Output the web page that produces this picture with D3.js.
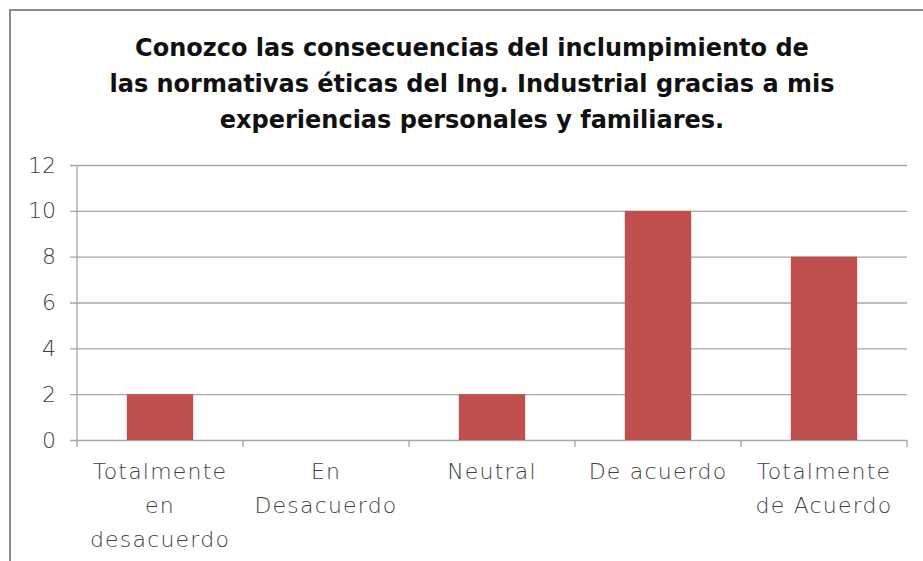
<!DOCTYPE html>
<html>
<head>
<meta charset="utf-8">
<script src="https://cdn.jsdelivr.net/npm/d3@7"></script>
<style>
  body { margin: 0; background: #fff; }
  svg text { font-family: "DejaVu Sans", sans-serif; }
</style>
</head>
<body>
<div id="chart"></div>
<script>
const categories = [
    ["Totalmente", "en", "desacuerdo"],
    ["En", "Desacuerdo"],
    ["Neutral"],
    ["De acuerdo"],
    ["Totalmente", "de Acuerdo"]
];
const values = [2, 0, 2, 10, 8];
const yTicks = [0, 2, 4, 6, 8, 10, 12];
const titleLines = [
    "Conozco las consecuencias del inclumpimiento de",
    "las normativas éticas del Ing. Industrial gracias a mis",
    "experiencias personales y familiares."
];

const W = 923, H = 561;
const margin = { top: 165, right: 16, bottom: 121, left: 77 };
const width = W - margin.left - margin.right;
const height = H - margin.top - margin.bottom;

const svg = d3.select("#chart").append("svg")
    .attr("width", W)
    .attr("height", H);

// outer frame (only top and left edges visible)
svg.append("rect")
    .attr("x", 10).attr("y", 10)
    .attr("width", W + 20).attr("height", H + 20)
    .attr("fill", "none")
    .attr("stroke", "#8c8c8c")
    .attr("stroke-width", 2);

// title
svg.append("text")
    .attr("text-anchor", "middle")
    .attr("font-size", 24)
    .attr("font-weight", "bold")
    .attr("fill", "#111")
    .selectAll("tspan")
    .data(titleLines)
    .enter()
    .append("tspan")
    .attr("x", 472)
    .attr("y", (d, i) => 56 + i * 36)
    .text(d => d);

const g = svg.append("g")
    .attr("transform", `translate(${margin.left},${margin.top})`);

const x = d3.scaleBand()
    .domain(d3.range(categories.length))
    .range([0, width])
    .paddingInner(0.6)
    .paddingOuter(0.3);

const y = d3.scaleLinear()
    .domain([0, 12])
    .range([height, 0]);

// gridlines + y ticks
const yAxis = g.append("g")
    .call(d3.axisLeft(y).tickValues(yTicks).tickSize(-width - 7).tickPadding(14).tickFormat(d3.format("d")))
    .attr("transform", "translate(-7,0)");
yAxis.select(".domain").remove();
yAxis.selectAll("line").attr("stroke", "#a6a6a6").attr("stroke-width", 1.3)
    .attr("x2", width + 7).attr("x1", 0);
yAxis.selectAll("text")
    .attr("font-size", 22)
    .attr("font-weight", 200)
    .attr("fill", "#404040");

// y axis line
g.append("line")
    .attr("x1", 0).attr("x2", 0)
    .attr("y1", 0).attr("y2", height)
    .attr("stroke", "#a6a6a6").attr("stroke-width", 1.3);

// bars
g.selectAll(".bar")
    .data(values)
    .enter()
    .append("rect")
    .attr("class", "bar")
    .attr("x", (d, i) => x(i))
    .attr("y", d => y(d))
    .attr("width", x.bandwidth())
    .attr("height", d => height - y(d))
    .attr("fill", "#c0504d");

// x axis ticks between categories
const step = x.step();
g.selectAll(".xtick")
    .data(d3.range(categories.length + 1))
    .enter()
    .append("line")
    .attr("x1", i => i * step).attr("x2", i => i * step)
    .attr("y1", height).attr("y2", height + 7)
    .attr("stroke", "#a6a6a6").attr("stroke-width", 1.3);

// category labels
const labels = g.selectAll(".xlabel")
    .data(categories)
    .enter()
    .append("text")
    .attr("class", "xlabel")
    .attr("text-anchor", "middle")
    .attr("font-size", 22)
    .attr("font-weight", 200)
    .attr("letter-spacing", 1.2)
    .attr("fill", "#404040");

labels.selectAll("tspan")
    .data((d, i) => d.map(t => ({ t, i })))
    .enter()
    .append("tspan")
    .attr("x", d => x(d.i) + x.bandwidth() / 2)
    .attr("y", (d, j) => height + 39 + j * 34)
    .text(d => d.t);
</script>
</body>
</html>
